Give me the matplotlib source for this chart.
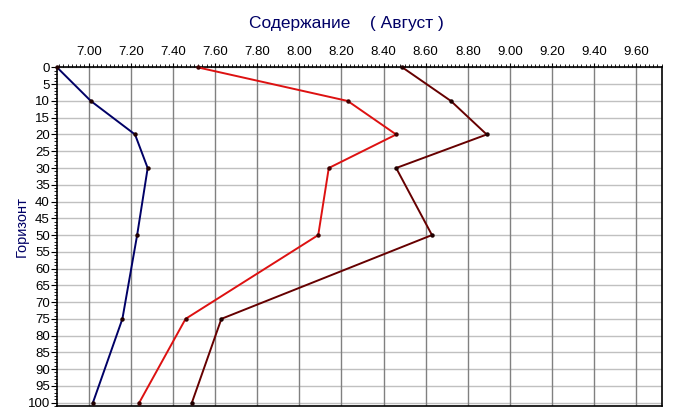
import matplotlib.pyplot as plt
from matplotlib.ticker import MultipleLocator, FormatStrFormatter

plt.rcParams['font.family'] = ['Liberation Sans', 'DejaVu Sans']

depth = [0, 10, 20, 30, 50, 75, 100]
s_blue = [6.85, 7.01, 7.22, 7.28, 7.23, 7.16, 7.02]
s_red = [7.52, 8.23, 8.46, 8.14, 8.09, 7.46, 7.24]
s_dark = [8.49, 8.72, 8.89, 8.46, 8.63, 7.63, 7.49]

fig = plt.figure(figsize=(6.75, 4.19), dpi=100)
ax = fig.add_axes([0.084, 0.031, 0.896, 0.808])

ax.plot(s_blue, depth, color='#000066', lw=1.4, marker='o', ms=2.2,
        mfc='#200000', mec='#200000', clip_on=False, zorder=3)
ax.plot(s_red, depth, color='#dd1111', lw=1.4, marker='o', ms=2.2,
        mfc='#400000', mec='#400000', clip_on=False, zorder=3)
ax.plot(s_dark, depth, color='#660000', lw=1.4, marker='o', ms=2.2,
        mfc='#200000', mec='#200000', clip_on=False, zorder=3)

ax.set_xlim(6.848, 9.72)
ax.set_ylim(101, 0)

ax.xaxis.tick_top()
ax.xaxis.set_major_locator(MultipleLocator(0.2))
ax.xaxis.set_minor_locator(MultipleLocator(0.02))
ax.xaxis.set_major_formatter(FormatStrFormatter('%.2f'))
ax.yaxis.set_major_locator(MultipleLocator(5))
ax.yaxis.set_minor_locator(MultipleLocator(1))

ax.tick_params(axis='x', which='major', length=3, width=0.8, pad=4, labelsize=9.5)
ax.tick_params(axis='x', which='minor', length=2, width=0.6)
ax.tick_params(axis='y', which='major', length=4, width=0.8, pad=1, labelsize=9.5)
ax.tick_params(axis='y', which='minor', length=2, width=0.6)

for v in ax.get_xticks():
    ax.axvline(v, color='#808080', lw=1, zorder=1)
for v in range(0, 101, 5):
    ax.axhline(v, color='#c0c0c0', lw=1, zorder=0.5)

for sp in ax.spines.values():
    sp.set_linewidth(1.2)
    sp.set_color('black')

fig.text(0.513, 0.945, 'Содержание    ( Август )', ha='center', va='center',
         fontsize=12.5, color='#000066')
fig.text(0.032, 0.46, 'Горизонт', ha='center', va='center', rotation=90,
         fontsize=10.5, color='#000066')

fig.savefig('out.png', dpi=100)
